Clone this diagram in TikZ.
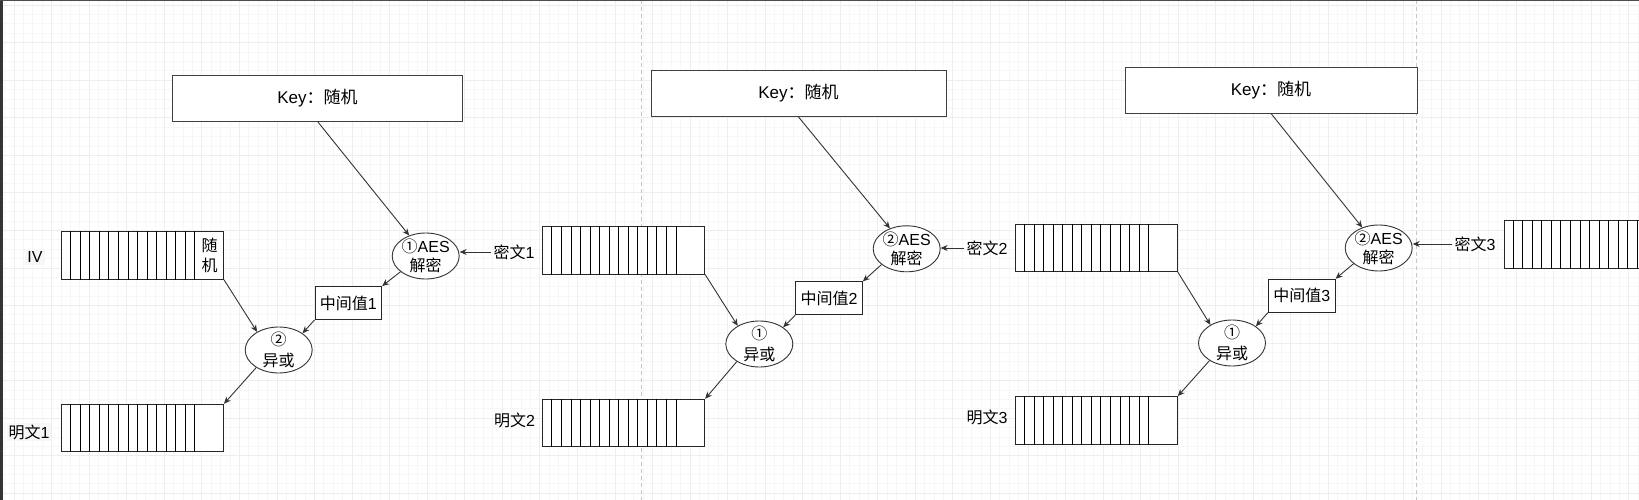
\documentclass[tikz,border=0pt]{standalone}
\usepackage{fontspec}
\setmainfont{Liberation Sans}
\newfontfamily\cjk{Noto Sans CJK SC}
\usetikzlibrary{shapes.geometric,arrows.meta}
\newcommand\cellsof[1]{\foreach \k in {1,...,14}{\draw[cellline] ([xshift=\k*9.55pt]#1.north west) -- ([xshift=\k*9.55pt]#1.south west);}}
\begin{document}
\begin{tikzpicture}[x=1pt,y=-1pt,
  dbox/.style={draw=black!85,line width=0.9pt,fill=white,minimum width=162pt,minimum height=47.5pt,inner sep=0pt},
  cellline/.style={draw=black,line width=0.75pt},
  keybox/.style={draw=black!75,line width=0.9pt,fill=white,minimum height=46pt,inner sep=0pt,font=\fontsize{17}{20}\selectfont},
  midbox/.style={draw=black!85,line width=0.9pt,fill=white,minimum width=66.7pt,minimum height=33pt,inner sep=0pt,font=\fontsize{16}{19}\selectfont},
  ell/.style={draw=black!80,line width=0.9pt,fill=white,ellipse,inner sep=0pt,minimum width=67pt,minimum height=46pt},
  elltext/.style={align=center,inner sep=0pt,font=\fontsize{16}{19.5}\selectfont},
  lbl/.style={inner sep=2pt,font=\fontsize{16}{19}\selectfont},
  arr/.style={draw=black!80,line width=0.9pt,-{Stealth[length=7pt,width=6pt]}},
  minorgrid/.style={draw=gray!6,line width=0.6pt},
  majorgrid/.style={draw=gray!13,line width=0.6pt},
  sep/.style={draw=gray!45,line width=0.7pt,dash pattern=on 4pt off 3pt}
]
\useasboundingbox (0,0) rectangle (1639,500);
\clip (0,0) rectangle (1639,500);
\fill[white] (0,0) rectangle (1639,500);
% grid
\foreach \i in {-2,...,176}{\draw[minorgrid] ({14+\i*9.3875},0) -- ({14+\i*9.3875},500);}
\foreach \i in {-2,...,55}{\draw[minorgrid] (0,{5+\i*9.3875}) -- (1639,{5+\i*9.3875});}
\foreach \i in {0,...,44}{\draw[majorgrid] ({14+\i*37.55},0) -- ({14+\i*37.55},500);}
\foreach \i in {0,...,13}{\draw[majorgrid] (0,{5+\i*37.55}) -- (1639,{5+\i*37.55});}
% separators
\draw[sep] (641.3,0) -- (641.3,500);
\draw[sep] (1416.6,0) -- (1416.6,500);
% screen edges
\fill[black!80] (0,0) rectangle (3,500);
\fill[black!70] (0,0) rectangle (1639,1.2);

% ---------- section 1 ----------
\node[keybox,minimum width=290pt] (key1) at (317.5,98) {Key{\cjk：随机}};
\node[ell,label={[elltext]center:{\cjk①}AES\\{\cjk 解密}}] (aes1) at (425.7,256) {};
\node[ell,label={[elltext,font=\fontsize{16}{21}\selectfont]center:{\cjk②}\\{\cjk 异或}}] (xor1) at (278.7,350) {};
\node[midbox] (mid1) at (348.3,303) {{\cjk 中间值}1};
\node[dbox] (iv) at (142.5,255.5) {};
\cellsof{iv}
\node[elltext,font=\fontsize{16}{20}\selectfont] (ivrand) at (209.5,255.5) {{\cjk 随}\\{\cjk 机}};
\node[lbl,fill=gray!6] (ivlbl) at (35,257) {IV};
\node[dbox] (p1) at (142.5,428) {};
\cellsof{p1}
\node[lbl,fill=gray!6] (p1lbl) at (29,432) {{\cjk 明文}1};

% ---------- section 2 ----------
\node[keybox,minimum width=295pt,minimum height=46.5pt] (key2) at (798.5,93.25) {Key{\cjk：随机}};
\node[ell,label={[elltext]center:{\cjk②}AES\\{\cjk 解密}}] (aes2) at (906.7,248.8) {};
\node[ell,label={[elltext,font=\fontsize{16}{21}\selectfont]center:{\cjk①}\\{\cjk 异或}}] (xor2) at (759.3,344) {};
\node[midbox] (mid2) at (829,298.35) {{\cjk 中间值}2};
\node[dbox] (c1) at (623.7,250.35) {};
\cellsof{c1}
\node[lbl] (c1lbl) at (514,252) {{\cjk 密文}1};
\node[dbox] (p2) at (623.7,423) {};
\cellsof{p2}
\node[lbl] (p2lbl) at (514.5,420) {{\cjk 明文}2};

% ---------- section 3 ----------
\node[keybox,minimum width=292pt] (key3) at (1271,90) {Key{\cjk：随机}};
\node[ell,label={[elltext]center:{\cjk②}AES\\{\cjk 解密}}] (aes3) at (1378.7,248) {};
\node[ell,label={[elltext,font=\fontsize{16}{21}\selectfont]center:{\cjk①}\\{\cjk 异或}}] (xor3) at (1232,343) {};
\node[midbox] (mid3) at (1301.7,295.7) {{\cjk 中间值}3};
\node[dbox] (c2) at (1096.35,247.85) {};
\cellsof{c2}
\node[lbl] (c2lbl) at (987,248) {{\cjk 密文}2};
\node[dbox] (p3) at (1096.35,420.35) {};
\cellsof{p3}
\node[lbl] (p3lbl) at (987,417) {{\cjk 明文}3};
\node[dbox] (c3) at (1585,244.5) {};
\cellsof{c3}
\node[lbl] (c3lbl) at (1475,244) {{\cjk 密文}3};

% ---------- connectors ----------
\draw[arr] (key1.south) -- (aes1);
\draw[arr] (key2.south) -- (aes2);
\draw[arr] (key3.south) -- (aes3);
\draw[arr] (c1lbl.west) -- (c1lbl.west -| aes1.east);
\draw[arr] (c2lbl.west) -- (c2lbl.west -| aes2.east);
\draw[arr] (c3lbl.west) -- (c3lbl.west -| aes3.east);
\draw[arr] (aes1.212) -- (mid1.north east);
\draw[arr] (aes2.212) -- (mid2.north east);
\draw[arr] (aes3.212) -- (mid3.north east);
\draw[arr] (mid1.south west) -- (xor1.35);
\draw[arr] (mid2.south west) -- (xor2.35);
\draw[arr] (mid3.south west) -- (xor3.35);
\draw[arr] (iv.south east) -- (xor1.140);
\draw[arr] (c1.south east) -- (xor2.140);
\draw[arr] (c2.south east) -- (xor3.140);
\draw[arr] (xor1.218) -- (p1.north east);
\draw[arr] (xor2.218) -- (p2.north east);
\draw[arr] (xor3.218) -- (p3.north east);
\end{tikzpicture}
\end{document}
